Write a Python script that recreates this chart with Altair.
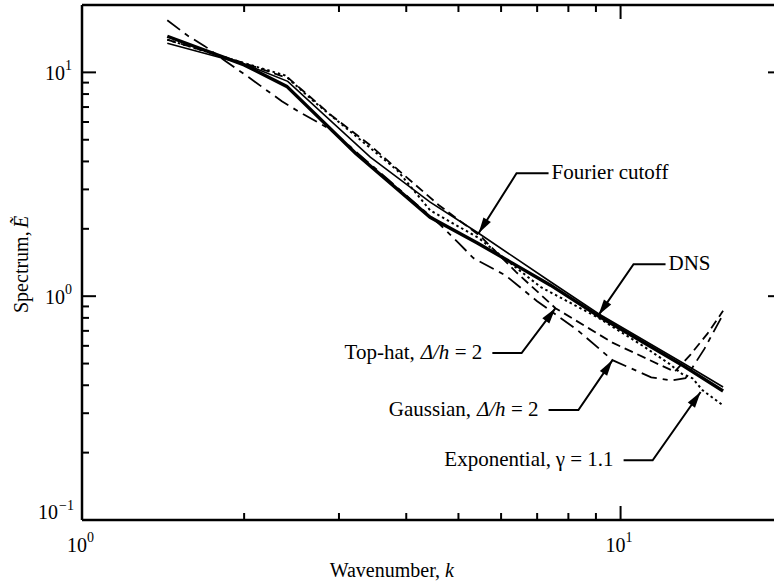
import altair as alt
import pandas as pd

FONT = "Liberation Serif"
W, H = 692, 515

# ---------------- curve data ----------------
dns_k = [1.44, 2.0, 2.40, 3.22, 4.43, 5.42, 7.41, 9.10, 13.1, 15.5]
dns_E = [14.5, 10.8, 8.66, 4.35, 2.25, 1.73, 1.12, 0.815, 0.487, 0.377]

fourier_k = [1.44, 2.0, 2.41, 3.43, 4.43, 5.45, 7.41, 9.10, 13.1, 15.5]
fourier_E = [13.5, 10.9, 9.12, 4.18, 2.63, 1.91, 1.16, 0.835, 0.50, 0.393]

tophat_k = [1.44, 2.0, 2.42, 2.91, 3.43, 3.95, 4.6, 5.5, 6.4, 7.57, 9.66, 11.9, 12.6, 13.5, 14.5, 15.5]
tophat_E = [14.0, 11.0, 9.4, 6.4, 4.72, 3.5, 2.55, 1.85, 1.28, 0.884, 0.62, 0.49, 0.46, 0.55, 0.68, 0.86]

gauss_k = [1.44, 1.57, 1.69, 1.84, 2.04, 2.35, 2.52, 2.87, 3.15, 3.7, 4.63, 5.0, 5.33, 6.11,
           7.0, 8.32, 9.66, 11.4, 12.4, 13.2, 14.3, 15.5]
gauss_E = [17.1, 14.6, 13.1, 11.3, 9.5, 7.43, 6.70, 5.62, 4.65, 3.32, 2.08, 1.73, 1.48, 1.24,
           0.95, 0.705, 0.518, 0.434, 0.42, 0.43, 0.58, 0.83]

expo_k = [1.44, 2.0, 2.38, 2.68, 3.85, 4.43, 5.45, 7.1, 9.1, 11.0, 12.3, 13.0, 13.6, 14.2, 15.5]
expo_E = [14.0, 11.0, 9.7, 7.5, 3.65, 2.42, 1.82, 1.10, 0.80, 0.60, 0.50, 0.45, 0.43, 0.38, 0.325]

# ---------------- axis ticks and labels ----------------
x_major = [1, 10]
x_minor = [2, 3, 4, 5, 6, 7, 8, 9]
y_major = [0.1, 1, 10]
y_minor = [0.2, 0.3, 0.4, 0.5, 0.6, 0.7, 0.8, 0.9, 2, 3, 4, 5, 6, 7, 8, 9]
x_label_exp = ["0", "1"]
y_label_exp = ["−1", "0", "1"]

# ---------------- annotations ----------------
ann_names = ["Fourier", "DNS", "Top-hat", "Gaussian", "Exponential"]
tip_k = [5.45, 9.10, 7.57, 9.66, 14.08]
tip_E = [1.91, 0.823, 0.884, 0.518, 0.373]
elbow_k = [6.41, 10.57, 6.55, 8.35, 11.47]
elbow_E = [3.54, 1.39, 0.557, 0.310, 0.185]
end_k = [7.35, 12.12, 5.78, 7.35, 10.13]
end_E = [3.54, 1.39, 0.557, 0.310, 0.185]
arrow_angle = [212.3, 214.5, 37.1, 34.2, 35.2]

# label pieces: (annotation index, text, italic, align, dx)
label_pieces = [
    (0, "Fourier cutoff", False, "left", 3),
    (1, "DNS", False, "left", 3),
    (2, "= 2", False, "right", -10),
    (2, "Δ/h", True, "right", -43),
    (2, "Top-hat,", False, "right", -77.5),
    (3, "= 2", False, "right", -10),
    (3, "Δ/h", True, "right", -43),
    (3, "Gaussian,", False, "right", -77.5),
    (4, "= 1.1", False, "right", -10),
    (4, "γ", False, "right", -58.6),
    (4, "Exponential,", False, "right", -72.5),
]

x_scale = alt.Scale(type="log", domain=[1, 19.27])
y_scale = alt.Scale(type="log", domain=[0.1, 20])


def X(field="k"):
    return alt.X(f"{field}:Q", scale=x_scale, axis=None)


def Y(field="E"):
    return alt.Y(f"{field}:Q", scale=y_scale, axis=None)


def curve(ks, es, **style):
    df = pd.DataFrame({"k": ks, "E": es})
    return alt.Chart(df).mark_line(color="black", **style).encode(x=X(), y=Y())


layers = []
layers.append(curve(gauss_k, gauss_E, strokeWidth=1.8, strokeDash=[16, 6, 5, 6]))
layers.append(curve(tophat_k, tophat_E, strokeWidth=1.8, strokeDash=[9, 5]))
layers.append(curve(expo_k, expo_E, strokeWidth=2, strokeDash=[2.5, 3]))
layers.append(curve(fourier_k, fourier_E, strokeWidth=1.6))
layers.append(curve(dns_k, dns_E, strokeWidth=3.4))

# frame (left, bottom, top)
frame = pd.DataFrame({"a": [0]})
layers.append(alt.Chart(frame).mark_rule(color="black", strokeWidth=2.5).encode(
    x=alt.value(0), y=alt.value(0), y2=alt.value(H)))
layers.append(alt.Chart(frame).mark_rule(color="black", strokeWidth=2.5).encode(
    x=alt.value(0), x2=alt.value(W), y=alt.value(H)))
layers.append(alt.Chart(frame).mark_rule(color="black", strokeWidth=2.5).encode(
    x=alt.value(0), x2=alt.value(W), y=alt.value(0)))

# tick marks (inward)
xmaj = pd.DataFrame({"k": x_major, "e": x_label_exp})
xmin = pd.DataFrame({"k": x_minor})
ymaj = pd.DataFrame({"E": y_major, "e": y_label_exp})
ymin = pd.DataFrame({"E": y_minor})
tk = dict(color="black", strokeWidth=2)
layers += [
    alt.Chart(xmaj).mark_rule(**tk).encode(x=X(), y=alt.value(H), y2=alt.value(H - 14)),
    alt.Chart(xmin).mark_rule(**tk).encode(x=X(), y=alt.value(H), y2=alt.value(H - 7)),
    alt.Chart(xmaj).mark_rule(**tk).encode(x=X(), y=alt.value(0), y2=alt.value(14)),
    alt.Chart(xmin).mark_rule(**tk).encode(x=X(), y=alt.value(0), y2=alt.value(7)),
    alt.Chart(ymaj).mark_rule(**tk).encode(y=Y(), x=alt.value(0), x2=alt.value(14)),
    alt.Chart(ymin).mark_rule(**tk).encode(y=Y(), x=alt.value(0), x2=alt.value(7)),
    alt.Chart(ymaj).mark_rule(**tk).encode(y=Y(), x=alt.value(W - 6), x2=alt.value(W)),
]

# tick labels: "10" with a raised exponent
base = dict(font=FONT, fontSize=20, color="black", baseline="middle")
sup = dict(font=FONT, fontSize=14, color="black", baseline="middle")
# x axis
layers.append(alt.Chart(xmaj).mark_text(text="10", align="right", dx=5, **base).encode(
    x=X(), y=alt.value(H + 26)))
layers.append(alt.Chart(xmaj).mark_text(align="left", dx=5, **sup).encode(
    x=X(), y=alt.value(H + 18), text="e:N"))
# y axis (upper labels)
ymaj_hi = ymaj[ymaj["E"] >= 1]
ymaj_lo = ymaj[ymaj["E"] < 1]
layers.append(alt.Chart(ymaj_hi).mark_text(text="10", align="right", dy=2, **base).encode(
    x=alt.value(-17), y=Y()))
layers.append(alt.Chart(ymaj_hi).mark_text(align="left", dy=-6, **sup).encode(
    x=alt.value(-17), y=Y(), text="e:N"))
layers.append(alt.Chart(ymaj_lo).mark_text(text="10", align="right", dy=-7, **base).encode(
    x=alt.value(-24), y=Y()))
layers.append(alt.Chart(ymaj_lo).mark_text(align="left", dy=-14, **sup).encode(
    x=alt.value(-23), y=Y(), text="e:N"))

# annotation leader lines
lead_rows = []
for i, n in enumerate(ann_names):
    lead_rows.append({"name": n, "o": 0, "k": end_k[i], "E": end_E[i]})
    lead_rows.append({"name": n, "o": 1, "k": elbow_k[i], "E": elbow_E[i]})
    lead_rows.append({"name": n, "o": 2, "k": tip_k[i], "E": tip_E[i]})
lead_df = pd.DataFrame(lead_rows)
layers.append(alt.Chart(lead_df).mark_line(color="black", strokeWidth=2).encode(
    x=X(), y=Y(), detail="name:N", order="o:Q"))

# arrow heads
head_df = pd.DataFrame({"k": tip_k, "E": tip_E, "ang": arrow_angle})
layers.append(alt.Chart(head_df).mark_point(
    shape="M0,0L0.55,2L-0.55,2Z", filled=True, color="black", opacity=1, size=256,
    strokeWidth=0).encode(x=X(), y=Y(), angle=alt.Angle("ang:Q", scale=None)))

# labels
for idx, txt, ital, align, dx in label_pieces:
    df = pd.DataFrame({"k": [end_k[idx]], "E": [end_E[idx]], "t": [txt]})
    kw = dict(font=FONT, fontSize=21, color="black", align=align, baseline="middle", dx=dx)
    if ital:
        kw["fontStyle"] = "italic"
    layers.append(alt.Chart(df).mark_text(**kw).encode(x=X(), y=Y(), text="t:N"))

# axis titles
ttl = dict(font=FONT, fontSize=20, color="black", baseline="middle")
layers.append(alt.Chart(frame).mark_text(text="Wavenumber,", align="right", **ttl).encode(
    x=alt.value(358), y=alt.value(566)))
layers.append(alt.Chart(frame).mark_text(text="k", align="left", fontStyle="italic", **ttl).encode(
    x=alt.value(363), y=alt.value(566)))
layers.append(alt.Chart(frame).mark_text(text="Spectrum,", align="left", angle=270, **ttl).encode(
    x=alt.value(-60), y=alt.value(308)))
layers.append(alt.Chart(frame).mark_text(text="Ẽ", align="left", angle=270, fontStyle="italic", **ttl).encode(
    x=alt.value(-60), y=alt.value(223)))

chart = alt.layer(*layers).properties(
    width=W, height=H,
    autosize=alt.AutoSizeParams(type="none"),
    padding={"left": 82, "top": 5, "right": 0, "bottom": 63},
    background="white",
).configure_view(stroke=None)

chart.save("out.html", embed_options={"renderer": "svg", "actions": False})
